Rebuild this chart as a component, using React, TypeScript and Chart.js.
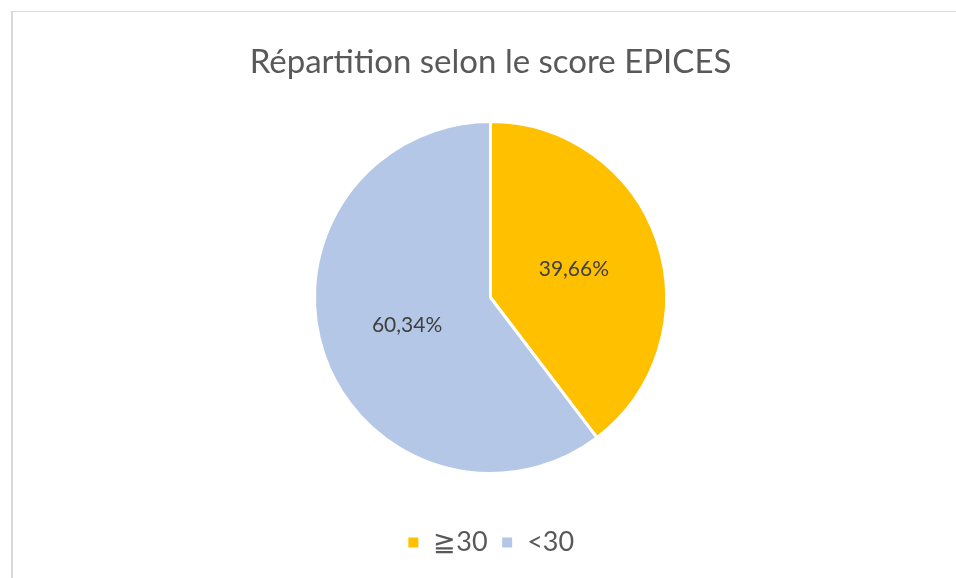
import React, { useEffect, useRef } from "react";
import { Chart, registerables } from "chart.js";

Chart.register(...registerables);

const TITLE = "Répartition selon le score EPICES";
const categories = ["≧30", "<30"];
const values = [39.66, 60.34];
const colors = ["#FFC000", "#B4C7E7"];

const FONT = "Lato, 'Liberation Sans', sans-serif";

const labelPlugin = {
  id: "sliceLabels",
  afterDatasetsDraw(chart: any) {
    const ctx = chart.ctx;
    const meta = chart.getDatasetMeta(0);
    ctx.save();
    ctx.font = `21px ${FONT}`;
    ctx.fillStyle = "#404040";
    ctx.textAlign = "center";
    ctx.textBaseline = "middle";
    meta.data.forEach((arc: any, i: number) => {
      const p = arc.tooltipPosition();
      const txt = values[i].toFixed(2).replace(".", ",") + "%";
      ctx.fillText(txt, p.x, p.y);
    });
    ctx.restore();
  },
};

export default function App() {
  const ref = useRef<HTMLCanvasElement>(null);
  useEffect(() => {
    document.body.style.margin = "0";
    const chart = new Chart(ref.current!, {
      type: "pie",
      data: {
        labels: categories,
        datasets: [
          {
            data: values,
            backgroundColor: colors,
            borderColor: "#ffffff",
            borderWidth: 3,
            radius: 176,
          },
        ],
      },
      options: {
        animation: false,
        responsive: false,
        layout: { padding: { left: 25, right: 0, top: 0, bottom: 12 } },
        plugins: {
          title: {
            display: true,
            text: TITLE,
            color: "#595959",
            font: { family: FONT, size: 33, weight: "normal", lineHeight: 1 },
            padding: { top: 46, bottom: 0 },
          },
          legend: {
            position: "bottom",
            labels: {
              color: "#595959",
              font: { family: FONT, size: 27 },
              boxWidth: 13,
              boxHeight: 13,
              padding: 13,
            },
          },
          tooltip: { enabled: false },
        },
      },
      plugins: [labelPlugin],
    });
    return () => chart.destroy();
  }, []);
  return (
    <div style={{ position: "relative", width: 956, height: 578, overflow: "hidden", background: "#fff" }}>
      <div
        style={{
          position: "absolute",
          left: 11,
          top: 11,
          width: 960,
          height: 600,
          borderTop: "1px solid #d9d9d9",
          borderLeft: "2px solid #d9d9d9",
        }}
      />
      <canvas ref={ref} width={956} height={578} style={{ position: "absolute", left: 0, top: 0 }} />
    </div>
  );
}
